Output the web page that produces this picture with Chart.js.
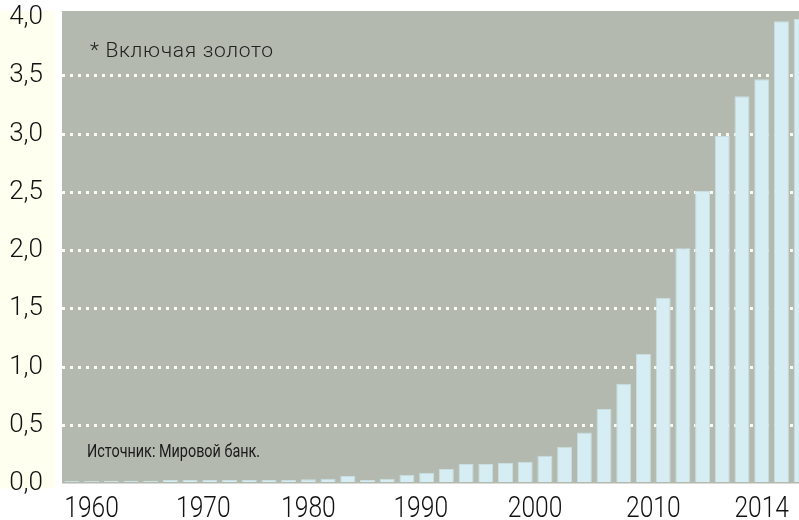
<!DOCTYPE html>
<html>
<head>
<meta charset="utf-8">
<script src="https://cdn.jsdelivr.net/npm/chart.js@4/dist/chart.umd.min.js"></script>
<style>
  html, body { margin: 0; padding: 0; background: #ffffff; overflow: hidden; }
  #wrap { position: relative; width: 811px; height: 520px; }
</style>
</head>
<body>
<div id="wrap"><canvas id="reserves"></canvas></div>
<script>
// bars, left to right
const bars = ['1', '2', '3', '4', '5', '6', '7', '8', '9', '10',
              '11', '12', '13', '14', '15', '16', '17', '18', '19', '20',
              '21', '22', '23', '24', '25', '26', '27', '28', '29', '30',
              '31', '32', '33', '34', '35', '36', '37', '38'];
const reserves = [0.022, 0.022, 0.024, 0.024, 0.024, 0.031, 0.031, 0.031, 0.031, 0.031,
                  0.031, 0.031, 0.036, 0.041, 0.064, 0.030, 0.041, 0.076, 0.093, 0.124,
                  0.167, 0.167, 0.176, 0.187, 0.239, 0.316, 0.438, 0.640, 0.857, 1.114,
                  1.595, 2.019, 2.511, 2.983, 3.324, 3.470, 3.967, 3.987];

// year labels under the axis and where they sit (in bar units)
const yearLabels = ['1960', '1970', '1980', '1990', '2000', '2010', '2014'];
const yearAt = [1, 6.67, 12, 17.7, 23.5, 29.5, 35];

const yTicks = [0, 0.5, 1, 1.5, 2, 2.5, 3, 3.5, 4];

const noteTop = '* Включая золото';
const noteSource = 'Источник: Мировой банк.';

// squeeze a line of text sideways, the original uses a condensed face
function narrowText(ctx, text, x, y, squeeze) {
    ctx.save();
    ctx.translate(x, y);
    ctx.scale(squeeze, 1);
    ctx.fillText(text, 0, 0);
    ctx.restore();
}

const backdrop = {
    id: 'backdrop',
    beforeDraw(chart) {
        const { ctx, chartArea: a } = chart;
        ctx.save();
        ctx.fillStyle = '#fffff0';
        ctx.fillRect(0, a.top, a.left - 7, a.bottom - a.top + 5);
        ctx.fillStyle = '#b3b9ae';
        ctx.fillRect(a.left, a.top, a.right - a.left, a.bottom - a.top);
        ctx.restore();
    },
    afterDraw(chart) {
        const { ctx, chartArea: a } = chart;
        const xs = chart.scales.x;
        ctx.save();
        ctx.textBaseline = 'alphabetic';

        // years under the bars
        ctx.fillStyle = '#111';
        ctx.textAlign = 'center';
        ctx.font = '300 30px Roboto';
        yearLabels.forEach((t, i) => narrowText(ctx, t, xs.getPixelForValue(yearAt[i]), a.bottom + 33.5, 0.82));

        ctx.textAlign = 'left';
        ctx.fillStyle = '#222';
        ctx.font = '300 21px Roboto';
        ctx.letterSpacing = '0.7px';
        ctx.fillText(noteTop, a.left + 28, a.top + 46);
        ctx.letterSpacing = '0px';

        ctx.fillStyle = '#1a1a1a';
        ctx.font = '18px Roboto';
        narrowText(ctx, noteSource, a.left + 25, a.bottom - 27, 0.8);
        ctx.restore();
    }
};

new Chart(document.getElementById('reserves'), {
    type: 'bar',
    data: {
        labels: bars,
        datasets: [{
            data: reserves,
            backgroundColor: '#d6eef3',
            borderColor: '#c8dee1',
            borderWidth: 1,
            barPercentage: 0.76,
            categoryPercentage: 1
        }]
    },
    options: {
        responsive: true,
        maintainAspectRatio: false,
        animation: false,
        layout: { padding: { top: 11, left: 0, right: 0, bottom: 36.5 } },
        plugins: { legend: { display: false }, tooltip: { enabled: false } },
        scales: {
            x: { display: false },
            y: {
                min: 0,
                max: 4.056,
                z: 1,
                afterBuildTicks: s => { s.ticks = yTicks.map(v => ({ value: v })); },
                afterFit: s => { s.width = 62; s.paddingTop = 0; s.paddingBottom = 0; },
                grid: {
                    drawTicks: false,
                    lineWidth: 3,
                    color: c => (c.tick && c.tick.value > 0 && c.tick.value < 4) ? '#fbfbf1' : 'rgba(0,0,0,0)'
                },
                border: { display: false, dash: [3, 5] },
                ticks: {
                    padding: 19,
                    color: '#111',
                    font: { family: 'Roboto', weight: '300', size: 26 },
                    callback: v => v.toFixed(1).replace('.', ',')
                }
            }
        }
    },
    plugins: [backdrop]
});
</script>
</body>
</html>
